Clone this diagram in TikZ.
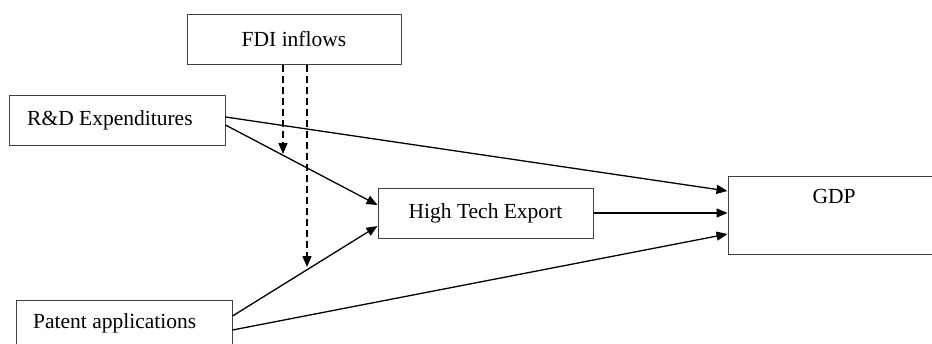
\documentclass[tikz,border=0pt]{standalone}
\usepackage{fontspec}
\setmainfont{Liberation Serif}
\usetikzlibrary{arrows.meta}
\begin{document}
\begin{tikzpicture}[x=1pt,y=-1pt,
  box/.style={draw=black!75,line width=1pt,inner sep=0pt,fill=white},
  lbl/.style={inner sep=0pt,font=\fontsize{21.5}{25}\selectfont},
  link/.style={line width=1.3pt,-{Triangle[length=11pt,width=9pt]}},
  dlink/.style={link,dash pattern=on 7pt off 4pt}]
\useasboundingbox (0,0) rectangle (932,343);
\clip (0,0) rectangle (932,343);

% boxes
\node[box,minimum width=214pt,minimum height=50pt] (fdi) at (294,39) {};
\node[box,minimum width=216pt,minimum height=50pt] (rd)  at (117,120) {};
\node[box,minimum width=216pt,minimum height=50pt] (pat) at (124,325) {};
\node[box,minimum width=215pt,minimum height=50pt] (hte) at (485.5,213) {};
\node[box,minimum width=212pt,minimum height=78pt] (gdp) at (834,215) {};

% labels
\node[lbl] (fdit) at (fdi.center) {FDI inflows};
\node[lbl,anchor=base west] (rdt) at (27,125) {R\&D Expenditures};
\node[lbl,anchor=base west] (patt) at (33,328) {Patent applications};
\node[lbl] (htet) at (hte.center) {High Tech Export};
\node[lbl,anchor=base] (gdpt) at (834,203) {GDP};

% moderating effect of FDI
\coordinate (m1) at (283,154);
\coordinate (m2) at (307,267);
\draw[dlink] (fdi.south -| m1) -- (m1);
\draw[dlink] (fdi.south -| m2) -- (m2);

% paths
\draw[link] ([yshift=3pt]rd.east) -- ([yshift=24pt]gdp.west);
\draw[link] ([yshift=-5pt]rd.east) -- ([yshift=8pt]hte.west);
\draw[link] ([yshift=9pt]pat.east) -- ([yshift=-13pt]hte.west);
\draw[link] ([yshift=-5pt]pat.east) -- ([yshift=-19pt]gdp.west);
\draw[link] (hte.east) -- (hte.east -| gdp.west);
\end{tikzpicture}
\end{document}
